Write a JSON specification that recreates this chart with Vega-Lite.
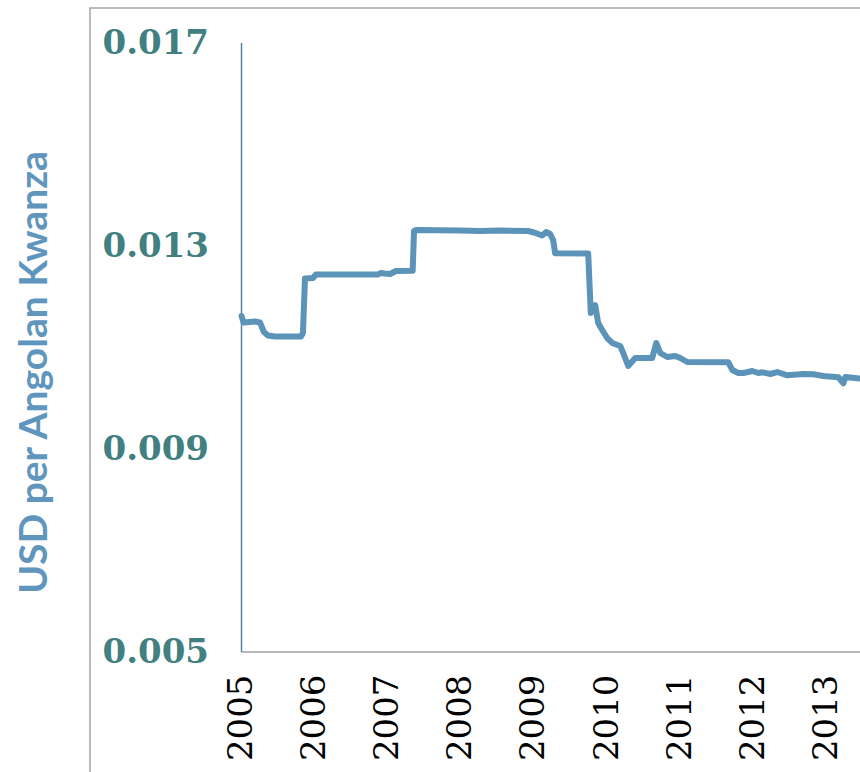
{
  "$schema": "https://vega.github.io/schema/vega-lite/v6.json",
  "width": 771,
  "height": 765,
  "autosize": {"type": "none"},
  "padding": {"left": 90, "top": 8, "right": -1, "bottom": -1},
  "background": "white",
  "config": {
    "view": {"stroke": "#a6a6a6", "strokeWidth": 1.5},
    "axisX": {"labelFont": "DejaVu Serif", "labelFontSize": 34, "labelFontWeight": "normal", "labelColor": "#000000"}
  },
  "datasets": {
    "rate": [
      {"date": "2005-01-01", "value": 0.011621},
      {"date": "2005-01-11", "value": 0.011493},
      {"date": "2005-03-09", "value": 0.011512},
      {"date": "2005-04-03", "value": 0.011493},
      {"date": "2005-04-23", "value": 0.011305},
      {"date": "2005-05-13", "value": 0.011236},
      {"date": "2005-06-17", "value": 0.011217},
      {"date": "2005-10-25", "value": 0.011217},
      {"date": "2005-11-04", "value": 0.011286},
      {"date": "2005-11-14", "value": 0.012360},
      {"date": "2005-12-24", "value": 0.012369},
      {"date": "2006-01-08", "value": 0.012438},
      {"date": "2006-11-14", "value": 0.012438},
      {"date": "2006-11-29", "value": 0.012472},
      {"date": "2006-12-14", "value": 0.012458},
      {"date": "2007-01-13", "value": 0.012448},
      {"date": "2007-02-12", "value": 0.012507},
      {"date": "2007-05-06", "value": 0.012513},
      {"date": "2007-05-13", "value": 0.013296},
      {"date": "2007-05-23", "value": 0.013315},
      {"date": "2007-12-29", "value": 0.013305},
      {"date": "2008-04-07", "value": 0.013296},
      {"date": "2008-07-16", "value": 0.013305},
      {"date": "2008-12-03", "value": 0.013296},
      {"date": "2009-01-02", "value": 0.013266},
      {"date": "2009-02-11", "value": 0.013207},
      {"date": "2009-03-03", "value": 0.013276},
      {"date": "2009-03-23", "value": 0.013236},
      {"date": "2009-04-07", "value": 0.013118},
      {"date": "2009-04-17", "value": 0.012856},
      {"date": "2009-09-29", "value": 0.012852},
      {"date": "2009-10-07", "value": 0.012133},
      {"date": "2009-10-12", "value": 0.011680},
      {"date": "2009-11-03", "value": 0.011837},
      {"date": "2009-11-18", "value": 0.011483},
      {"date": "2009-12-08", "value": 0.011345},
      {"date": "2010-01-02", "value": 0.011187},
      {"date": "2010-01-27", "value": 0.011089},
      {"date": "2010-03-08", "value": 0.011030},
      {"date": "2010-03-23", "value": 0.010892},
      {"date": "2010-04-17", "value": 0.010635},
      {"date": "2010-05-22", "value": 0.010793},
      {"date": "2010-08-15", "value": 0.010793},
      {"date": "2010-09-04", "value": 0.011089},
      {"date": "2010-09-24", "value": 0.010892},
      {"date": "2010-10-29", "value": 0.010813},
      {"date": "2010-12-08", "value": 0.010833},
      {"date": "2011-01-02", "value": 0.010793},
      {"date": "2011-02-06", "value": 0.010714},
      {"date": "2011-08-30", "value": 0.010708},
      {"date": "2011-09-19", "value": 0.010557},
      {"date": "2011-10-19", "value": 0.010498},
      {"date": "2011-11-13", "value": 0.010498},
      {"date": "2011-12-28", "value": 0.010537},
      {"date": "2012-01-27", "value": 0.010498},
      {"date": "2012-02-16", "value": 0.010511},
      {"date": "2012-03-27", "value": 0.010478},
      {"date": "2012-05-01", "value": 0.010517},
      {"date": "2012-06-20", "value": 0.010452},
      {"date": "2012-09-08", "value": 0.010478},
      {"date": "2012-10-28", "value": 0.010472},
      {"date": "2012-12-17", "value": 0.010438},
      {"date": "2013-03-02", "value": 0.010413},
      {"date": "2013-03-27", "value": 0.010295},
      {"date": "2013-04-06", "value": 0.010419},
      {"date": "2013-06-05", "value": 0.010393},
      {"date": "2013-06-30", "value": 0.010389}
    ],
    "yaxis": [{"date": "2005-01-01", "value": 0.005, "value2": 0.017}],
    "xaxis": [{"date": "2005-01-01", "date2": "2013-07-31", "value": 0.005}]
  },
  "encoding": {
    "x": {
      "field": "date",
      "type": "temporal",
      "scale": {
        "type": "utc",
        "domain": [
          {"year": 2002, "month": 12, "date": 6, "utc": true},
          {"year": 2013, "month": 6, "date": 23, "utc": true}
        ]
      },
      "axis": {
        "title": null,
        "orient": "bottom",
        "offset": -121,
        "domain": false,
        "ticks": false,
        "tickSize": 0,
        "grid": false,
        "values": [
          {"year": 2005, "month": 1, "date": 1, "utc": true},
          {"year": 2006, "month": 1, "date": 1, "utc": true},
          {"year": 2007, "month": 1, "date": 1, "utc": true},
          {"year": 2008, "month": 1, "date": 1, "utc": true},
          {"year": 2009, "month": 1, "date": 1, "utc": true},
          {"year": 2010, "month": 1, "date": 1, "utc": true},
          {"year": 2011, "month": 1, "date": 1, "utc": true},
          {"year": 2012, "month": 1, "date": 1, "utc": true},
          {"year": 2013, "month": 1, "date": 1, "utc": true}
        ],
        "format": "%Y",
        "labelAngle": -90,
        "labelAlign": "right",
        "labelBaseline": "middle",
        "labelFont": "DejaVu Serif",
        "labelFontSize": 34,
        "labelFontWeight": "normal",
        "labelColor": "#000000",
        "labelPadding": 22,
        "labelFlush": false,
        "labelOverlap": false
      }
    },
    "y": {
      "field": "value",
      "type": "quantitative",
      "scale": {"domain": [0.0026158, 0.0176897], "nice": false, "zero": false},
      "axis": {
        "title": "USD per Angolan Kwanza",
        "orient": "left",
        "offset": -151.5,
        "domain": false,
        "ticks": false,
        "tickSize": 0,
        "grid": false,
        "values": [0.005, 0.009, 0.013, 0.017],
        "format": ".3f",
        "labelFont": "DejaVu Serif",
        "labelFontWeight": "bold",
        "labelFontSize": 34,
        "labelColor": "#417f80",
        "labelPadding": 33,
        "labelFlush": false,
        "labelOverlap": false,
        "titleFont": "Lato",
        "titleFontWeight": "bold",
        "titleFontSize": 39,
        "titleColor": "#6096be",
        "titleX": -207,
        "titleY": 364,
        "titleAngle": -90,
        "titleAlign": "center",
        "titleBaseline": "middle"
      }
    }
  },
  "layer": [
    {
      "data": {"name": "xaxis"},
      "mark": {"type": "rule", "color": "#a0a0a0", "strokeWidth": 1.5, "clip": true},
      "encoding": {"x2": {"field": "date2"}}
    },
    {
      "data": {"name": "yaxis"},
      "mark": {"type": "rule", "color": "#58809f", "strokeWidth": 1.5},
      "encoding": {"y2": {"field": "value2"}}
    },
    {
      "data": {"name": "rate"},
      "mark": {"type": "line", "color": "#5b93b9", "strokeWidth": 6, "clip": true, "strokeJoin": "round", "strokeCap": "round"},
      "encoding": {}
    }
  ]
}
